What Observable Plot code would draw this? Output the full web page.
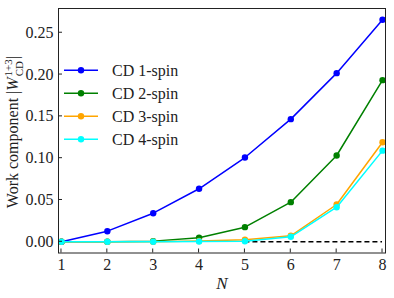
<!DOCTYPE html>
<html>
<head>
<meta charset="utf-8">
<script src="https://cdn.jsdelivr.net/npm/d3@7"></script>
<script src="https://cdn.jsdelivr.net/npm/@observablehq/plot@0.6"></script>
<style>
  html, body { margin: 0; padding: 0; background: #fff; }
  svg text { font-family: 'Liberation Serif', 'Times New Roman', serif !important; }
</style>
</head>
<body>
<div id="chart"></div>
<script>
const N = [1, 2, 3, 4, 5, 6, 7, 8];
const cd1 = [0.0, 0.0127, 0.0342, 0.0634, 0.1008, 0.1467, 0.2017, 0.2656];
const cd2 = [0.0, 0.0, 0.0008, 0.0048, 0.0175, 0.0474, 0.1032, 0.1933];
const cd3 = [0.0, 0.0, 0.0002, 0.0010, 0.0024, 0.0072, 0.0446, 0.1190];
const cd4 = [0.0, 0.0, 0.0001, 0.0004, 0.0006, 0.0060, 0.0414, 0.1090];
const seriesNames = ["CD 1-spin", "CD 2-spin", "CD 3-spin", "CD 4-spin"];
const seriesColors = ["#0000ff", "#008000", "#ffa500", "#00ffff"];
const xTicks = [1, 2, 3, 4, 5, 6, 7, 8];
const yTicks = [0, 0.05, 0.10, 0.15, 0.20, 0.25];

const allSeries = [cd1, cd2, cd3, cd4];
const rows = allSeries.flatMap((vals, i) => N.map((n, j) => ({N: n, W: vals[j], s: seriesNames[i]})));

const marks = [
  Plot.ruleY([0], {x1: 5, x2: 8, stroke: "#000", strokeWidth: 1.4, strokeDasharray: "5,3"})
];
seriesNames.forEach((name, i) => {
  const d = rows.filter(r => r.s === name);
  marks.push(Plot.line(d, {x: "N", y: "W", stroke: seriesColors[i], strokeWidth: 1.5}));
  marks.push(Plot.dot(d, {x: "N", y: "W", fill: seriesColors[i], r: 3.2, stroke: "none"}));
});
marks.push(
  Plot.axisX(xTicks, {tickSize: 0, tickPadding: 6, fontSize: 16, label: null}),
  Plot.axisY(yTicks, {tickSize: 0, tickPadding: 5, fontSize: 16, label: null, tickFormat: d3.format(".2f")}),
  Plot.frame({stroke: "#222", strokeWidth: 1})
);

const plot = Plot.plot({
  width: 394,
  height: 298,
  marginLeft: 58,
  marginTop: 8,
  marginRight: 9,
  marginBottom: 45.5,
  style: {background: "#fff", color: "#222", fontFamily: "'Liberation Serif', serif"},
  x: {domain: [0.935, 8.065]},
  y: {domain: [-0.0134, 0.279]},
  marks
});
document.getElementById("chart").appendChild(plot);

const svg = d3.select(plot);
const xs = plot.scale("x"), ys = plot.scale("y");
const left = 58, bottom = 298 - 45.5;
// inward ticks
const tg = svg.append("g").attr("stroke", "#222").attr("stroke-width", 1);
xTicks.forEach(t => {
  const x = xs.apply(t);
  tg.append("line").attr("x1", x).attr("x2", x).attr("y1", bottom).attr("y2", bottom - 4);
});
yTicks.forEach(t => {
  const y = ys.apply(t);
  tg.append("line").attr("x1", left).attr("x2", left + 4).attr("y1", y).attr("y2", y);
});

// legend
const lg = svg.append("g");
seriesNames.forEach((name, i) => {
  const y = 70.3 + i * 23;
  lg.append("line").attr("x1", 64).attr("x2", 98).attr("y1", y).attr("y2", y)
    .attr("stroke", seriesColors[i]).attr("stroke-width", 1.5);
  lg.append("circle").attr("cx", 81).attr("cy", y).attr("r", 3.2).attr("fill", seriesColors[i]);
  lg.append("text").attr("x", 112).attr("y", y).attr("dy", "0.35em")
    .attr("text-anchor", "start")
    .attr("font-size", 16).attr("fill", "#222").text(name);
});

// x label
svg.append("text").attr("x", 222).attr("y", 289).attr("text-anchor", "middle")
  .attr("font-size", 17).attr("font-style", "italic").attr("fill", "#222").text("N");

// y label
const yl = svg.append("text").attr("transform", "translate(18,132) rotate(-90)")
  .attr("text-anchor", "middle").attr("font-size", 16).attr("fill", "#222");
yl.append("tspan").text("Work component |");
yl.append("tspan").attr("font-style", "italic").text("W");
yl.append("tspan").attr("font-size", 11).attr("dy", -6.5).attr("dx", 1).text("1+3");
yl.append("tspan").attr("font-size", 11).attr("dy", 11).attr("dx", -17.2).text("CD");
yl.append("tspan").attr("dy", -4.5).attr("dx", 2).text("|");
</script>
</body>
</html>
